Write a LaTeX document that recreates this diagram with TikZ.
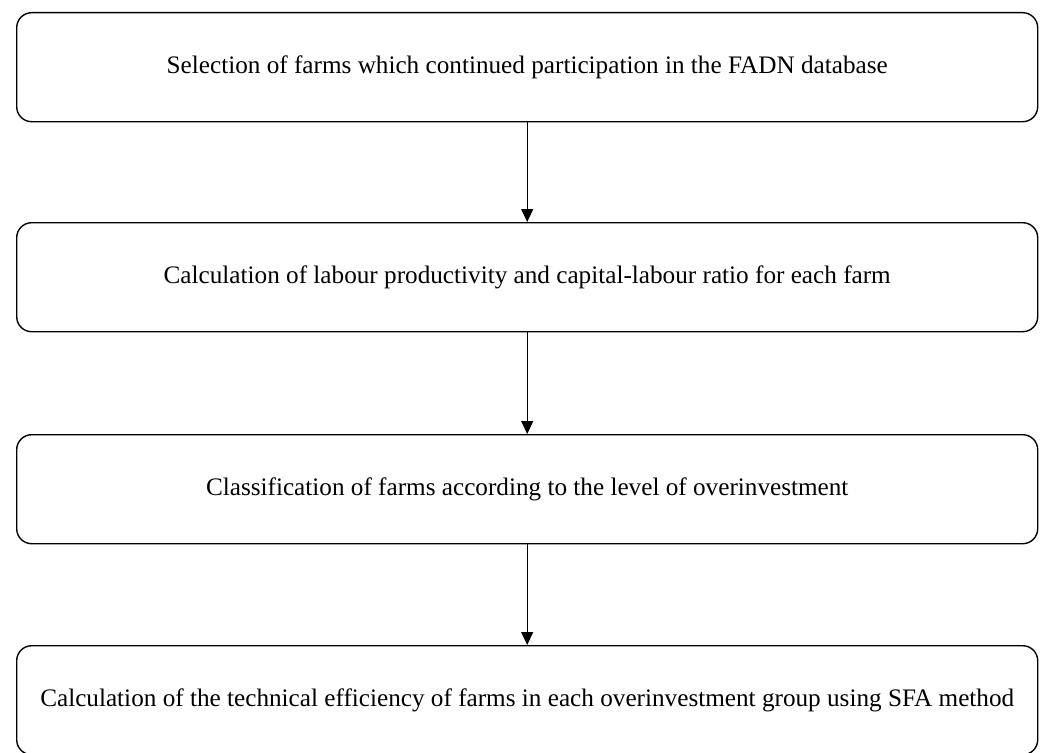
\documentclass[tikz,border=0pt]{standalone}
\usepackage{fontspec}
\setmainfont{Liberation Serif}
\usetikzlibrary{arrows.meta}
\begin{document}
\begin{tikzpicture}[x=1pt,y=-1pt,
  stepbox/.style={draw=black,line width=1.4pt,rounded corners=15pt,minimum width=1021pt,minimum height=109pt,inner sep=0pt,font=\fontsize{25.2}{30}\selectfont,anchor=north west},
  flow/.style={line width=0.8pt,-{Triangle[width=12pt,length=13pt]}}]
\useasboundingbox (0,0) rectangle (1043,752);
\node[stepbox] (b1) at (16,12) {Selection of farms which continued participation in the FADN database};
\node[stepbox] (b2) at (16,222) {Calculation of labour productivity and capital-labour ratio for each farm};
\node[stepbox] (b3) at (16,434) {Classification of farms according to the level of overinvestment};
\node[stepbox] (b4) at (16,645) {Calculation of the technical efficiency of farms in each overinvestment group using SFA method};
\draw[flow] (b1.south) -- (b2.north);
\draw[flow] (b2.south) -- (b3.north);
\draw[flow] (b3.south) -- (b4.north);
\end{tikzpicture}
\end{document}
